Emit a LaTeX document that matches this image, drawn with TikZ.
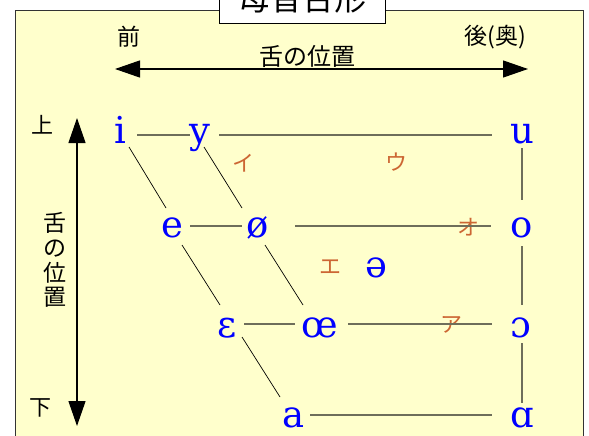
\documentclass[tikz,border=0pt]{standalone}
\usepackage{fontspec}
\setmainfont{DejaVu Serif}
\newfontfamily\jpfont{Noto Sans CJK JP}
\usetikzlibrary{arrows.meta,calc}
\definecolor{bgyellow}{RGB}{255,255,204}
\definecolor{kana}{RGB}{204,102,51}
\definecolor{rulecol}{RGB}{110,110,90}
\begin{document}
\begin{tikzpicture}[x=1pt,y=-1pt,
  vowel/.style={text=blue, font=\fontsize{37}{40}\selectfont, inner sep=0pt, text height=18pt, text depth=0pt},
  kanalbl/.style={text=kana, font=\jpfont\fontsize{22}{24}\selectfont, inner sep=0pt},
  jplbl/.style={font=\jpfont\fontsize{23}{25}\selectfont, inner sep=0pt},
  gridline/.style={draw=rulecol, line width=1.1pt},
  slant/.style={draw=black, line width=0.7pt},
  bigarrow/.style={line width=1.2pt, {Triangle[length=25pt,width=17pt]}-{Triangle[length=25pt,width=17pt]}}]
\useasboundingbox (0,0) rectangle (589,436);
\clip (0,0) rectangle (589,436);
\fill[white] (0,0) rectangle (589,436);
% main frame
\draw[fill=bgyellow, draw=black!80, line width=1pt] (15,11) rectangle (583,450);
% title
\node[draw=black, fill=white, line width=1pt, minimum width=166pt, minimum height=51pt, inner sep=0pt,
      font=\jpfont\fontsize{32}{36}\selectfont] (title) at (302,-1.5) {母音台形};
% labels
\node[jplbl] (front) at (129,37) {前};
\node[jplbl] (back) at (495,37) {後(奥)};
\node[font=\jpfont\fontsize{24}{26}\selectfont, inner sep=0pt] (tongueh) at (307,56) {舌の位置};
\node[jplbl, font=\jpfont\fontsize{22}{24}\selectfont] (up) at (42,125) {上};
\node[jplbl, font=\jpfont\fontsize{22}{24}\selectfont] (down) at (40,408) {下};
\node[font=\jpfont\fontsize{23}{24.7}\selectfont, inner sep=0pt, align=center] (tonguev) at (55,260) {舌\\の\\位\\置};
% arrows
\coordinate (hl) at (115,69);
\coordinate (hr) at (528,69);
\coordinate (vt) at (77,118);
\coordinate (vb) at (77,426);
\draw[bigarrow] (hl) -- (hr);
\draw[bigarrow] (vt) -- (vb);
% vowels
\node[vowel] (i) at (120,134) {i};
\node[vowel] (y) at (200,134) {y};
\node[vowel] (u) at (522,134) {u};
\node[vowel] (e) at (172,228) {e};
\node[vowel] (oe) at (258,228) {ø};
\node[vowel] (o) at (522,228) {o};
\node[vowel] (eps) at (227,328) {ɛ};
\node[vowel] (oel) at (320,328) {œ};
\node[vowel] (oo) at (521,328) {ɔ};
\node[vowel] (a) at (294,418) {a};
\node[vowel] (aa) at (522,418) {ɑ};
\node[vowel] (schwa) at (376,268) {ə};
% katakana
\node[kanalbl] (ki) at (243,163) {イ};
\node[kanalbl] (ku) at (396,162) {ウ};
\node[kanalbl] (ko) at (468,227) {オ};
\node[kanalbl] (ke) at (330,267) {エ};
\node[kanalbl] (ka) at (451,325) {ア};
% horizontal lines
\draw[gridline] ($(i)+(17,1)$) -- ($(y)+(-10,1)$);
\draw[gridline] ($(y)+(19,1)$) -- ($(u)+(-30,1)$);
\draw[gridline] ($(e)+(18,-2)$) -- ($(oe)+(-16,-2)$);
\draw[gridline] ($(oe)+(37,-2)$) -- ($(o)+(-31,-2)$);
\draw[gridline] ($(eps)+(17,-4)$) -- ($(oel)+(-25,-4)$);
\draw[gridline] ($(oel)+(28,-4)$) -- ($(oo)+(-29,-4)$);
\draw[gridline] ($(a)+(16,-3)$) -- ($(aa)+(-30,-3)$);
% vertical lines
\draw[gridline] ($(u)+(0,14)$) -- ($(o)+(0,-28)$);
\draw[gridline] ($(o)+(0,18)$) -- ($(oo)+(1,-23)$);
\draw[gridline] ($(oo)+(1,15)$) -- ($(aa)+(0,-15)$);
% slanted lines
\draw[slant] ($(i)+(9,13)$) -- ($(e)+(-6,-20)$);
\draw[slant] ($(y)+(4,13)$) -- ($(oe)+(-16,-20)$);
\draw[slant] ($(e)+(10,17)$) -- ($(eps)+(-7,-23)$);
\draw[slant] ($(oe)+(7,17)$) -- ($(oel)+(-17,-23)$);
\draw[slant] ($(eps)+(15,9)$) -- ($(a)+(-14,-21)$);
\end{tikzpicture}
\end{document}
